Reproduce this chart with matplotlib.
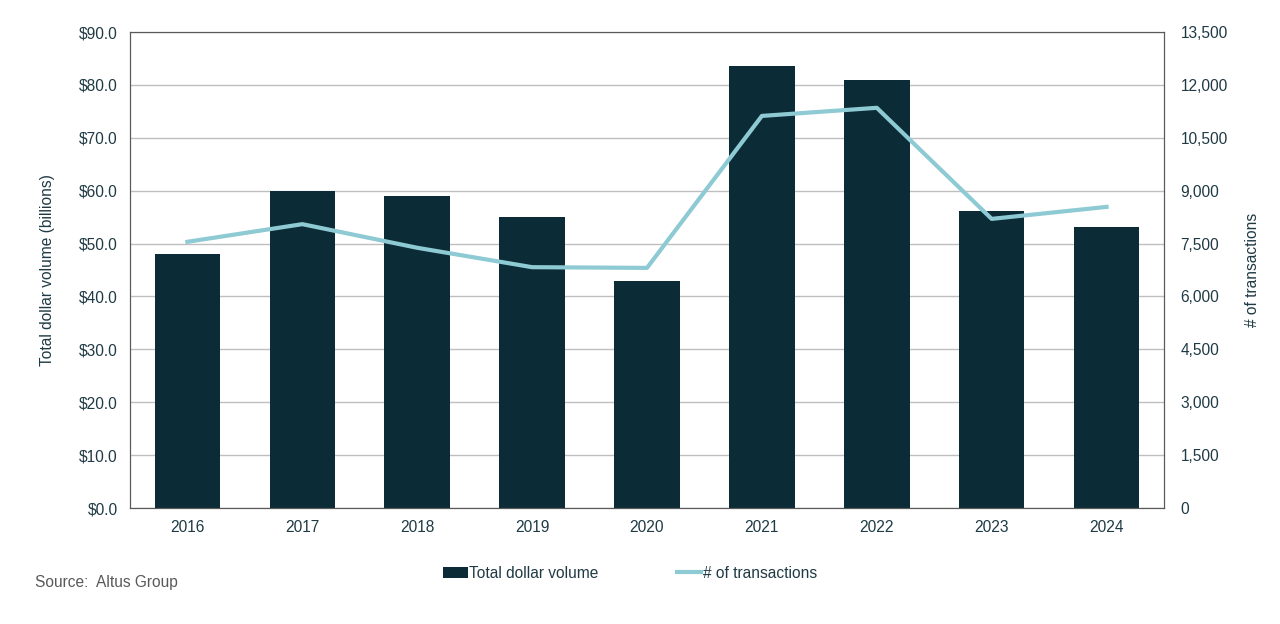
import numpy as np
import matplotlib.pyplot as plt
from matplotlib.ticker import FuncFormatter

plt.rcParams['font.family'] = ['Liberation Sans', 'DejaVu Sans']

years = ["2016", "2017", "2018", "2019", "2020", "2021", "2022", "2023", "2024"]
volume = [48.0, 60.0, 59.0, 55.0, 43.0, 83.6, 80.9, 56.1, 53.1]
transactions = [7550, 8050, 7380, 6830, 6810, 11120, 11350, 8200, 8540]

bar_color = "#0b2b36"
line_color = "#8ecad3"
text_color = "#1f3a44"

fig = plt.figure(figsize=(12.8, 6.24), dpi=100)
ax = fig.add_axes([130 / 1280, 1 - 508 / 624, (1164 - 130) / 1280, (508 - 32) / 624])
x = np.arange(len(years))

ax.bar(x, volume, width=0.57, color=bar_color, label="Total dollar volume", zorder=2)
ax.set_ylim(0, 90)
ax.set_yticks(np.arange(0, 91, 10))
ax.yaxis.set_major_formatter(FuncFormatter(lambda v, p: f"${v:.1f}"))
ax.set_xlim(-0.5, len(years) - 0.5)
ax.set_xticks(x)
ax.set_xticklabels(years)
ax.grid(axis="y", color="#bfbfbf", linewidth=1, zorder=0)
ax.set_axisbelow(True)
ax.tick_params(length=0, labelsize=11.2, colors=text_color, pad=9)
for s in ax.spines.values():
    s.set_color("#595959")
ax.set_ylabel("Total dollar volume (billions)", fontsize=11.2, color=text_color, labelpad=17)

ax2 = ax.twinx()
ax2.plot(x, transactions, color=line_color, linewidth=3, label="# of transactions", zorder=3)
ax2.set_ylim(0, 13500)
ax2.set_yticks(np.arange(0, 13501, 1500))
ax2.yaxis.set_major_formatter(FuncFormatter(lambda v, p: f"{int(v):,}"))
ax2.tick_params(length=0, labelsize=11.2, colors=text_color, pad=12)
for s in ax2.spines.values():
    s.set_color("#595959")
ax2.set_ylabel("# of transactions", fontsize=11.2, color=text_color, labelpad=12)

h1, l1 = ax.get_legend_handles_labels()
h2, l2 = ax2.get_legend_handles_labels()
fig.legend(h1 + h2, l1 + l2, loc="center", bbox_to_anchor=(630 / 1280, 1 - 573 / 624),
           ncol=2, frameon=False, fontsize=11.2, columnspacing=5, handlelength=1.6,
           handletextpad=0.1, labelcolor=text_color)

fig.text(35 / 1280, 1 - 583 / 624, "Source:  Altus Group", fontsize=11.2, color="#595959", va="center")

fig.savefig("out.png", dpi=100)
